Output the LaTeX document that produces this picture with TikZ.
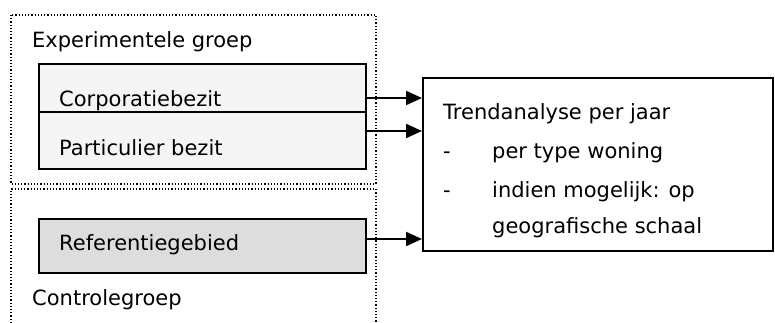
\documentclass[tikz,border=0pt]{standalone}
\usepackage{fontspec}
\setmainfont{DejaVu Sans}
\usetikzlibrary{arrows.meta}
\definecolor{boxfill}{HTML}{F5F5F5}
\definecolor{reffill}{HTML}{DDDDDD}
\tikzset{
  txt/.style={anchor=base west, inner sep=0pt, font=\fontsize{21}{25}\selectfont},
  solidbox/.style={draw=black, line width=2pt, inner sep=0pt},
  groupline/.style={draw=black, line width=1.2pt, dotted},
  arr/.style={draw=black, line width=2pt, -{Triangle[length=16pt,width=14pt]}},
}
\begin{document}
\begin{tikzpicture}[x=1pt,y=-1pt]
  \useasboundingbox (0,0) rectangle (775,323);

  % dotted group frames
  \draw[groupline] (11,15) rectangle (376,184);
  \draw[groupline] (11,323) -- (11,189) -- (376,189) -- (376,323);

  % boxes
  \node[solidbox, fill=boxfill, minimum width=327pt, minimum height=48pt, anchor=north west] (corp) at (38,63) {};
  \node[solidbox, fill=boxfill, minimum width=327pt, minimum height=57pt, anchor=north west] (part) at (38,111) {};
  \node[solidbox, fill=reffill, minimum width=327pt, minimum height=54pt, anchor=north west] (ref) at (38,218) {};
  \node[solidbox, fill=white, minimum width=350pt, minimum height=173pt, anchor=north west] (trend) at (422,77) {};

  % labels
  \node[txt] (lexp) at (32,48) {Experimentele groep};
  \node[txt] (lcorp) at (59,107) {Corporatiebezit};
  \node[txt] (lpart) at (59,155) {Particulier bezit};
  \node[txt] (lref) at (59,250) {Referentiegebied};
  \node[txt] (lctrl) at (32,305) {Controlegroep};

  \node[txt] (t1) at (443,120) {Trendanalyse per jaar};
  \node[txt] (d1) at (443,159) {-};
  \node[txt] (t2) at (492,159) {per type woning};
  \node[txt] (d2) at (443,197) {-};
  \node[txt] (t3) at (492,197) {indien mogelijk: op};
  \node[txt] (t4) at (492,233) {geografische schaal};

  % connectors
  \draw[arr] ([yshift=-10pt]corp.east) coordinate (a1) -- (a1 -| trend.west);
  \draw[arr] ([yshift=9.5pt]part.east) coordinate (a2) -- (a2 -| trend.west);
  \draw[arr] ([yshift=7pt]ref.east) coordinate (a3) -- (a3 -| trend.west);
\end{tikzpicture}
\end{document}
